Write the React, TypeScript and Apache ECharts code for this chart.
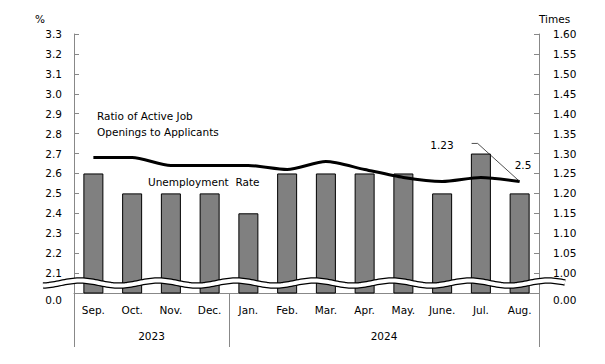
import React, { useEffect, useRef } from 'react';
import * as echarts from 'echarts';

const months = ['Sep.', 'Oct.', 'Nov.', 'Dec.', 'Jan.', 'Feb.', 'Mar.', 'Apr.', 'May.', 'June.', 'Jul.', 'Aug.'];
const years = ['2023', '2024'];
const yearSpans = [4, 8];
const unemploymentRate = [2.6, 2.5, 2.5, 2.5, 2.4, 2.6, 2.6, 2.6, 2.6, 2.5, 2.7, 2.5];
const jobRatio = [1.29, 1.29, 1.27, 1.27, 1.27, 1.26, 1.28, 1.26, 1.24, 1.23, 1.24, 1.23];
const leftAxisRange = [2.0, 3.3, 0.1];
const rightAxisRange = [0.95, 1.6, 0.05];
const leftZeroLabel = '0.0';
const rightZeroLabel = '0.00';

const FONT = 'DejaVu Sans';
const FS = 10.5;
const AXIS_COLOR = '#888';

export default function App() {
  const ref = useRef<HTMLDivElement>(null);
  useEffect(() => {
    document.body.style.margin = '0';
    const chart = echarts.init(ref.current!, null, { renderer: 'svg' });

    const boundaries: number[] = [0];
    const centers: number[] = [];
    let acc = 0;
    yearSpans.forEach((s) => {
      centers.push(acc + s / 2);
      acc += s;
      boundaries.push(acc);
    });

    const textStyle = { color: '#000', fontFamily: FONT, fontSize: FS };

    chart.setOption({
      animation: false,
      textStyle: { fontFamily: FONT },
      grid: { left: 74, right: 66, top: 34, bottom: 71 },
      xAxis: [
        {
          type: 'category',
          data: months,
          axisLine: { lineStyle: { color: AXIS_COLOR } },
          axisTick: { show: false },
          axisLabel: { ...textStyle, margin: 11, interval: 0 },
        },
        {
          type: 'value',
          min: 0,
          max: acc,
          position: 'bottom',
          axisLine: { show: false },
          splitLine: { show: false },
          axisTick: { show: true, customValues: boundaries, length: 54, lineStyle: { color: AXIS_COLOR } },
          axisLabel: {
            ...textStyle,
            customValues: centers,
            margin: 37,
            formatter: (v: number) => years[centers.indexOf(v)] ?? '',
          },
        },
      ],
      yAxis: [
        {
          type: 'value',
          min: leftAxisRange[0],
          max: leftAxisRange[1],
          interval: leftAxisRange[2],
          name: '%',
          nameGap: 10,
          nameTextStyle: { ...textStyle, align: 'right', padding: [0, 29, 0, 0] },
          axisLine: { show: true, lineStyle: { color: AXIS_COLOR } },
          axisTick: { show: true, inside: true, length: 5, lineStyle: { color: AXIS_COLOR } },
          splitLine: { show: false },
          axisLabel: {
            ...textStyle,
            margin: 12,
            formatter: (v: number) =>
              Math.abs(v - leftAxisRange[0]) < 1e-6 ? `{z|${leftZeroLabel}}` : v.toFixed(1),
            rich: { z: { ...textStyle, padding: [14, 0, 0, 0] } },
          },
        },
        {
          type: 'value',
          position: 'right',
          min: rightAxisRange[0],
          max: rightAxisRange[1],
          interval: rightAxisRange[2],
          name: 'Times',
          nameGap: 10,
          nameTextStyle: { ...textStyle, align: 'left', padding: [0, 0, 0, 0] },
          axisLine: { show: true, lineStyle: { color: AXIS_COLOR } },
          axisTick: { show: true, inside: true, length: 5, lineStyle: { color: AXIS_COLOR } },
          splitLine: { show: false },
          axisLabel: {
            ...textStyle,
            margin: 14,
            formatter: (v: number) =>
              Math.abs(v - rightAxisRange[0]) < 1e-6 ? `{z|${rightZeroLabel}}` : v.toFixed(2),
            rich: { z: { ...textStyle, padding: [14, 0, 0, 0] } },
          },
        },
      ],
      series: [
        {
          name: 'Unemployment Rate',
          type: 'bar',
          xAxisIndex: 0,
          yAxisIndex: 0,
          data: unemploymentRate,
          barWidth: 20,
          itemStyle: { color: '#808080', borderColor: '#000', borderWidth: 1 },
        },
        {
          name: 'Ratio of Active Job Openings to Applicants',
          type: 'line',
          xAxisIndex: 0,
          yAxisIndex: 1,
          data: jobRatio,
          symbol: 'none',
          smooth: 0.25,
          lineStyle: { color: '#000', width: 3 },
          z: 5,
        },
      ],
    });

    // Break mark and annotations
    const yMid = chart.convertToPixel({ yAxisIndex: 0 }, (leftAxisRange[0] + leftAxisRange[0] + leftAxisRange[2]) / 2) as number;
    const wave: number[][] = [];
    const x0 = 43, x1 = 565, P = 78, A = 2.5, crest = 80;
    for (let x = x0; x <= x1; x += 2) {
      wave.push([x, yMid - A * Math.sin((2 * Math.PI * (x - crest + P / 4)) / P)]);
    }
    const last = jobRatio.length - 1;
    const pt = chart.convertToPixel({ seriesIndex: 1 }, [last, jobRatio[last]]) as number[];

    chart.setOption({
      graphic: [
        { type: 'polyline', z: 100, shape: { points: wave }, style: { stroke: '#000', lineWidth: 6.5, fill: null } },
        { type: 'polyline', z: 101, shape: { points: wave }, style: { stroke: '#fff', lineWidth: 4, fill: null } },
        {
          type: 'text', z: 102, x: 97, y: 108,
          style: { text: 'Ratio of Active Job\nOpenings to Applicants', fill: '#000', font: `${FS}px "${FONT}"`, lineHeight: 16, verticalAlign: 'top' },
        },
        {
          type: 'text', z: 102, x: 148, y: 182,
          style: { text: 'Unemployment  Rate', fill: '#000', font: `${FS}px "${FONT}"`, verticalAlign: 'middle' },
        },
        {
          type: 'polyline', z: 102,
          shape: { points: [[pt[0] - 48, pt[1] - 38], [pt[0] - 42, pt[1] - 38], [pt[0], pt[1]]] },
          style: { stroke: '#222', lineWidth: 0.8, fill: null },
        },
        {
          type: 'text', z: 102, x: pt[0] - 66, y: pt[1] - 36,
          style: { text: jobRatio[last].toFixed(2), fill: '#000', font: `${FS}px "${FONT}"`, align: 'right', verticalAlign: 'middle' },
        },
        {
          type: 'text', z: 102, x: pt[0] - 5, y: pt[1] - 16,
          style: { text: String(unemploymentRate[last]), fill: '#000', font: `${FS}px "${FONT}"`, align: 'left', verticalAlign: 'middle' },
        },
      ],
    });

    return () => chart.dispose();
  }, []);
  return <div ref={ref} style={{ width: 605, height: 364 }} />;
}
